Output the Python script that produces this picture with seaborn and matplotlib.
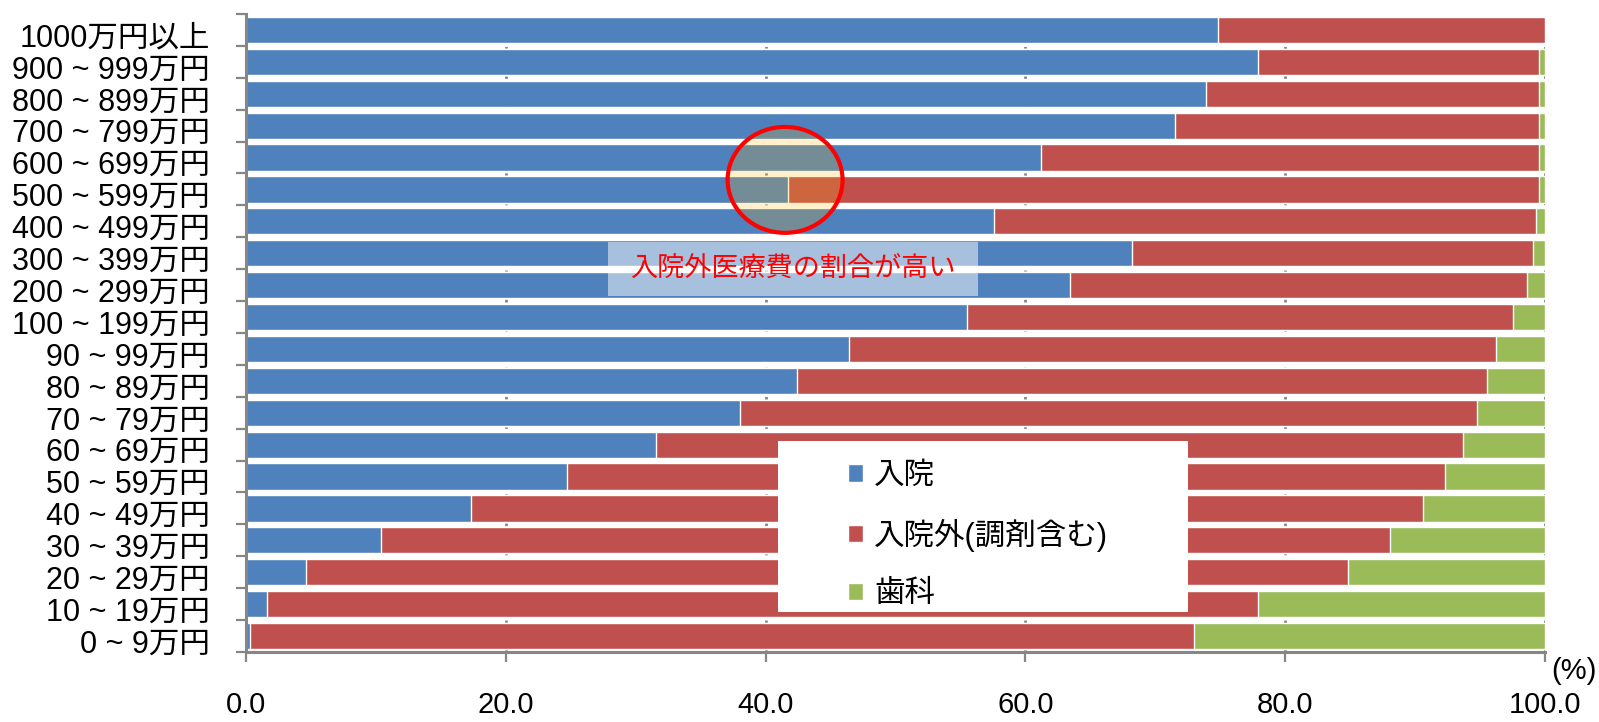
import numpy as np
import pandas as pd
import matplotlib
matplotlib.use("Agg")
import matplotlib.pyplot as plt
from matplotlib.patches import Ellipse, Rectangle
from matplotlib.transforms import ScaledTranslation
import seaborn as sns

# income bracket (top to bottom)
brackets = [
    "1000万円以上", "900 ~ 999万円", "800 ~ 899万円", "700 ~ 799万円",
    "600 ~ 699万円", "500 ~ 599万円", "400 ~ 499万円", "300 ~ 399万円",
    "200 ~ 299万円", "100 ~ 199万円", "90 ~ 99万円", "80 ~ 89万円",
    "70 ~ 79万円", "60 ~ 69万円", "50 ~ 59万円", "40 ~ 49万円",
    "30 ~ 39万円", "20 ~ 29万円", "10 ~ 19万円", "0 ~ 9万円",
]
# shares in %
inpatient = [74.8, 77.9, 73.9, 71.5, 61.2, 41.7, 57.6, 68.2, 63.4, 55.5,
             46.4, 42.4, 38.0, 31.6, 24.7, 17.3, 10.4, 4.6, 1.6, 0.3]
outpatient = [25.2, 21.6, 25.6, 28.0, 38.3, 57.8, 41.7, 30.9, 35.2, 42.0,
              49.8, 53.1, 56.8, 62.1, 67.6, 73.3, 77.7, 80.2, 76.3, 72.7]
dental = [0.0, 0.5, 0.5, 0.5, 0.5, 0.5, 0.7, 0.9, 1.4, 2.5,
          3.8, 4.5, 5.2, 6.3, 7.7, 9.4, 11.9, 15.2, 22.1, 27.0]
series_names = ["入院", "入院外(調剤含む)", "歯科"]
x_ticks = [0, 20, 40, 60, 80, 100]

colors = ["#4F81BD", "#C0504D", "#9BBB59"]
gray = "#868686"

df = pd.DataFrame({
    "bracket": brackets,
    "inpatient": inpatient,
    "outpatient": outpatient,
    "dental": dental,
})
df["cum_out"] = df["inpatient"] + df["outpatient"]
df["cum_all"] = df["cum_out"] + df["dental"]

sns.set_theme(style="white")
plt.rcParams["font.family"] = ["Liberation Sans", "Noto Sans CJK JP"]
plt.rcParams["text.color"] = "black"

fig = plt.figure(figsize=(15.99, 7.22), dpi=100)
ax = fig.add_axes([246 / 1599, 1 - 652 / 722, (1545 - 246) / 1599, (652 - 14) / 722])

# stacked bars: draw cumulative totals back to front
bw = 0.82
sns.barplot(data=df, x="cum_all", y="bracket", color=colors[2], width=bw,
            orient="h", ax=ax, label=series_names[2], saturation=1, zorder=2)
sns.barplot(data=df, x="cum_out", y="bracket", color=colors[1], width=bw,
            orient="h", ax=ax, label=series_names[1], saturation=1, zorder=2)
sns.barplot(data=df, x="inpatient", y="bracket", color=colors[0], width=bw,
            orient="h", ax=ax, label=series_names[0], saturation=1, zorder=2)
handles, labels = ax.get_legend_handles_labels()
if ax.get_legend() is not None:
    ax.get_legend().remove()

ax.set_xlim(0, 100)
ax.set_ylim(len(brackets) - 0.5, -0.5)
ax.set_xlabel("")
ax.set_ylabel("")
ax.set_xticks(x_ticks)
ax.set_xticklabels([f"{t:.1f}" for t in x_ticks])

ax.set_axisbelow(True)
ax.xaxis.grid(True, linestyle=(0, (1, 2.5)), color=gray, linewidth=2)
ax.yaxis.grid(False)

for side in ["top", "right"]:
    ax.spines[side].set_visible(False)
for side in ["left", "bottom"]:
    ax.spines[side].set_color(gray)
    ax.spines[side].set_linewidth(2.2)

ax.tick_params(axis="x", which="major", length=7, width=1.6, color=gray,
               direction="out", pad=21, labelsize=21, labelcolor="black", bottom=True)
ax.tick_params(axis="y", which="major", length=0, pad=26, labelsize=22,
               labelcolor="black")
ax.set_yticks(np.arange(-0.5, len(brackets), 1), minor=True)
ax.tick_params(axis="y", which="minor", length=7, width=1.6, color=gray,
               direction="out", left=True)

# nudge y labels slightly down like the original
for lbl in ax.get_yticklabels():
    lbl.set_transform(lbl.get_transform() + ScaledTranslation(0, -5 / 100, fig.dpi_scale_trans))

# highlight circle around the 500-599 row
ax.add_patch(Ellipse((41.5, 4.7), width=8.85, height=3.32,
                     facecolor=(1.0, 0.71, 0.03, 0.21), edgecolor="#FF0000",
                     linewidth=3, zorder=4))

# callout box
ax.add_patch(Rectangle((42.13 - 14.25, 7.49 - 0.85), 28.5, 1.7,
                       facecolor=(1, 1, 1, 0.5), edgecolor="none", zorder=4))
ax.text(42.13, 7.49, "入院外医療費の割合が高い", color="#FF0000", fontsize=19.5,
        ha="center", va="center", zorder=5)

# legend on white panel
fig.patches.append(Rectangle((778 / 1599, 1 - 612 / 722), (1188 - 778) / 1599,
                             (612 - 441) / 722, transform=fig.transFigure,
                             facecolor="white", edgecolor="none", zorder=3))
order = [labels.index(n) for n in series_names]
leg = fig.legend([handles[i] for i in order], [labels[i] for i in order],
                 loc="upper left", bbox_to_anchor=(848 / 1599, 1 - 461 / 722),
                 bbox_transform=fig.transFigure, frameon=False, fontsize=22,
                 handlelength=0.5, handleheight=0.5, handletextpad=0.35,
                 labelspacing=0.9, borderpad=0, borderaxespad=0)
leg.set_zorder(6)

fig.text(1597 / 1599, 1 - 671 / 722, "(%)", fontsize=21, ha="right", va="center")

fig.savefig("out.png", dpi=100)
